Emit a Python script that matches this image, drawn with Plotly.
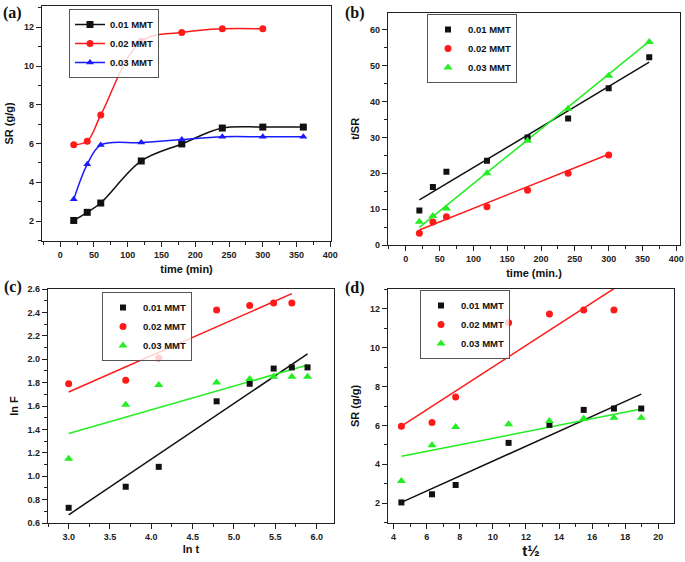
import plotly.graph_objects as go

# ---------------- data ----------------
series_names = ["0.01 MMT", "0.02 MMT", "0.03 MMT"]

# (a) swelling ratio vs time
t = [20, 40, 60, 120, 180, 240, 300, 360]
t_red = [20, 40, 60, 120, 180, 240, 300]
sr_001 = [2.03, 2.45, 2.93, 5.10, 5.98, 6.80, 6.85, 6.85]
sr_002 = [5.94, 6.12, 7.47, 11.28, 11.73, 11.92, 11.92]
sr_003 = [3.12, 4.93, 5.92, 6.05, 6.21, 6.35, 6.35, 6.35]

# (b) t/SR vs time
tsr_001 = [9.6, 16.2, 20.4, 23.5, 30.0, 35.3, 43.7, 52.4]
tsr_002 = [3.3, 6.4, 7.9, 10.7, 15.3, 20.0, 25.1]
tsr_003 = [6.5, 8.1, 10.2, 20.0, 29.1, 38.0, 47.2, 56.6]
fitb_x_001 = [20, 360]
fitb_y_001 = [12.6, 51.0]
fitb_x_002 = [20, 300]
fitb_y_002 = [4.2, 25.3]
fitb_x_003 = [20, 360]
fitb_y_003 = [4.9, 56.8]

# (c) ln F vs ln t
lnt = [3.00, 3.69, 4.09, 4.79, 5.19, 5.48, 5.70, 5.89]
lnt_red = [3.00, 3.69, 4.09, 4.79, 5.19, 5.48, 5.70]
lnF_001 = [0.73, 0.91, 1.08, 1.64, 1.79, 1.92, 1.93, 1.93]
lnF_002 = [1.79, 1.82, 2.01, 2.42, 2.46, 2.48, 2.48]
lnF_003 = [1.15, 1.61, 1.78, 1.80, 1.83, 1.85, 1.85, 1.85]
fitc_x_001 = [3.0, 5.89]
fitc_y_001 = [0.67, 2.045]
fitc_x_002 = [3.0, 5.70]
fitc_y_002 = [1.72, 2.56]
fitc_x_003 = [3.0, 5.89]
fitc_y_003 = [1.365, 1.95]

# (d) SR vs t^1/2
sqt = [4.47, 6.32, 7.75, 10.95, 13.42, 15.49, 17.32, 18.97]
sqt_red = [4.47, 6.32, 7.75, 10.95, 13.42, 15.49, 17.32]
srd_001 = [2.03, 2.45, 2.93, 5.10, 6.03, 6.80, 6.87, 6.87]
srd_002 = [5.96, 6.15, 7.47, 11.29, 11.74, 11.95, 11.95]
srd_003 = [3.14, 4.98, 5.92, 6.06, 6.23, 6.35, 6.39, 6.39]
fitd_x_001 = [4.47, 18.97]
fitd_y_001 = [2.03, 7.61]
fitd_x_002 = [4.47, 17.32]
fitd_y_002 = [5.96, 13.05]
fitd_x_003 = [4.47, 18.97]
fitd_y_003 = [4.41, 6.84]

# ---------------- styling ----------------
BLACK = "#111111"
RED = "#ff1a1a"
BLUE = "#1a1aff"
GREEN = "#22ee22"
SANS = "Liberation Sans"
SERIF = "Liberation Serif"

fig = go.Figure()

# (a) spline lines with markers
for xs, ys, col, sym, name in [
    (t, sr_001, BLACK, "square", series_names[0]),
    (t_red, sr_002, RED, "circle", series_names[1]),
    (t, sr_003, BLUE, "triangle-up", series_names[2]),
]:
    fig.add_trace(go.Scatter(
        x=xs, y=ys, mode="lines+markers", name=name,
        line=dict(color=col, width=1.5, shape="spline", smoothing=1.0),
        marker=dict(symbol=sym, size=7, color=col),
        xaxis="x", yaxis="y", legend="legend"))

# scatter + fit panels
panels = [
    ("x2", "y2", "legend2",
     [(t, tsr_001), (t_red, tsr_002), (t, tsr_003)],
     [(fitb_x_001, fitb_y_001), (fitb_x_002, fitb_y_002), (fitb_x_003, fitb_y_003)]),
    ("x3", "y3", "legend3",
     [(lnt, lnF_001), (lnt_red, lnF_002), (lnt, lnF_003)],
     [(fitc_x_001, fitc_y_001), (fitc_x_002, fitc_y_002), (fitc_x_003, fitc_y_003)]),
    ("x4", "y4", "legend4",
     [(sqt, srd_001), (sqt_red, srd_002), (sqt, srd_003)],
     [(fitd_x_001, fitd_y_001), (fitd_x_002, fitd_y_002), (fitd_x_003, fitd_y_003)]),
]
cols = [BLACK, RED, GREEN]
syms = ["square", "circle", "triangle-up"]
sizes = [6, 7, 8]
for xa, ya, leg, pts, fits in panels:
    for i in range(3):
        fx, fy = fits[i]
        fig.add_trace(go.Scatter(
            x=fx, y=fy, mode="lines", showlegend=False,
            line=dict(color=cols[i], width=1.5),
            xaxis=xa, yaxis=ya))
    for i in range(3):
        px, py = pts[i]
        fig.add_trace(go.Scatter(
            x=px, y=py, mode="markers", name=series_names[i],
            marker=dict(symbol=syms[i], size=sizes[i], color=cols[i]),
            xaxis=xa, yaxis=ya, legend=leg))


def axis(domain, rng, dtick, minor_dtick, title, anchor, tick0=0, title_size=11,
         standoff=None, tickformat=None):
    d = dict(
        domain=domain, range=rng, anchor=anchor, automargin=False,
        showline=True, linecolor="#222222", linewidth=1.3, mirror=True,
        ticks="outside", ticklen=5, tickwidth=1.2, tickcolor="#222222",
        showgrid=False, zeroline=False, tick0=tick0, dtick=dtick,
        tickfont=dict(family=SANS, size=9, color="#222222", weight="bold"),
        minor=dict(ticks="outside", ticklen=3, tickwidth=1, tickcolor="#222222",
                   dtick=minor_dtick, tick0=tick0, showgrid=False),
        title=dict(text=title, font=dict(family=SANS, size=title_size, color="#111111", weight="bold")),
    )
    if standoff is not None:
        d["title"]["standoff"] = standoff
    if tickformat:
        d["tickformat"] = tickformat
    return d


W, H = 685, 562
def dx(a, b):
    return [a / W, b / W]
def dy(top, bottom):
    return [1 - bottom / H, 1 - top / H]

legend_common = dict(
    xanchor="left", yanchor="top", bgcolor="rgba(255,255,255,0.8)",
    bordercolor="#555555", borderwidth=1,
    font=dict(family=SANS, size=9.5, color="#111111", weight="bold"),
    itemwidth=30, tracegroupgap=0,
)

fig.update_layout(
    width=W, height=H,
    margin=dict(l=0, r=0, t=0, b=0),
    paper_bgcolor="white", plot_bgcolor="white",
    xaxis=axis(dx(42, 331), [-27, 401], 50, 25, "time (min)", "y", standoff=6),
    yaxis=axis(dy(6, 241), [0.97, 13.1], 2, 1, "SR (g/g)", "x", standoff=8),
    xaxis2=axis(dx(388, 680), [-26.4, 405.5], 50, 25, "time (min.)", "y2", standoff=6),
    yaxis2=axis(dy(12.7, 245), [0, 64.8], 10, 5, "t/SR", "x2", standoff=8),
    xaxis3=axis(dx(48, 334), [2.75, 6.21], 0.5, 0.25, "ln t", "y3", tick0=0, standoff=4,
                tickformat=".1f"),
    yaxis3=axis(dy(289, 523), [0.6, 2.6], 0.2, 0.1, "ln F", "x3", tick0=0, standoff=6,
                tickformat=".1f"),
    xaxis4=axis(dx(388, 674), [3.66, 20.95], 2, 1, "t½", "y4", title_size=15, standoff=2),
    yaxis4=axis(dy(289, 523), [0.97, 13.03], 2, 1, "SR (g/g)", "x4", standoff=8),
    legend=dict(x=69 / W, y=1 - 9 / H, **legend_common),
    legend2=dict(x=427 / W, y=1 - 14 / H, **legend_common),
    legend3=dict(x=102 / W, y=1 - 292 / H, **legend_common),
    legend4=dict(x=420 / W, y=1 - 290 / H, **legend_common),
)

labels = [("(a)", 1, 2), ("(b)", 343, 2), ("(c)", 2, 276), ("(d)", 343, 277)]
for txt, x, y in labels:
    fig.add_annotation(
        text=txt, x=x / W, y=1 - y / H, xref="paper", yref="paper",
        xanchor="left", yanchor="top", showarrow=False,
        font=dict(family=SERIF, size=16, color="#111111", weight="bold"))

fig.write_html(
    "out.html",
    config={"displayModeBar": False},
    post_script="document.body.style.margin='0';document.body.style.overflow='hidden';",
)
